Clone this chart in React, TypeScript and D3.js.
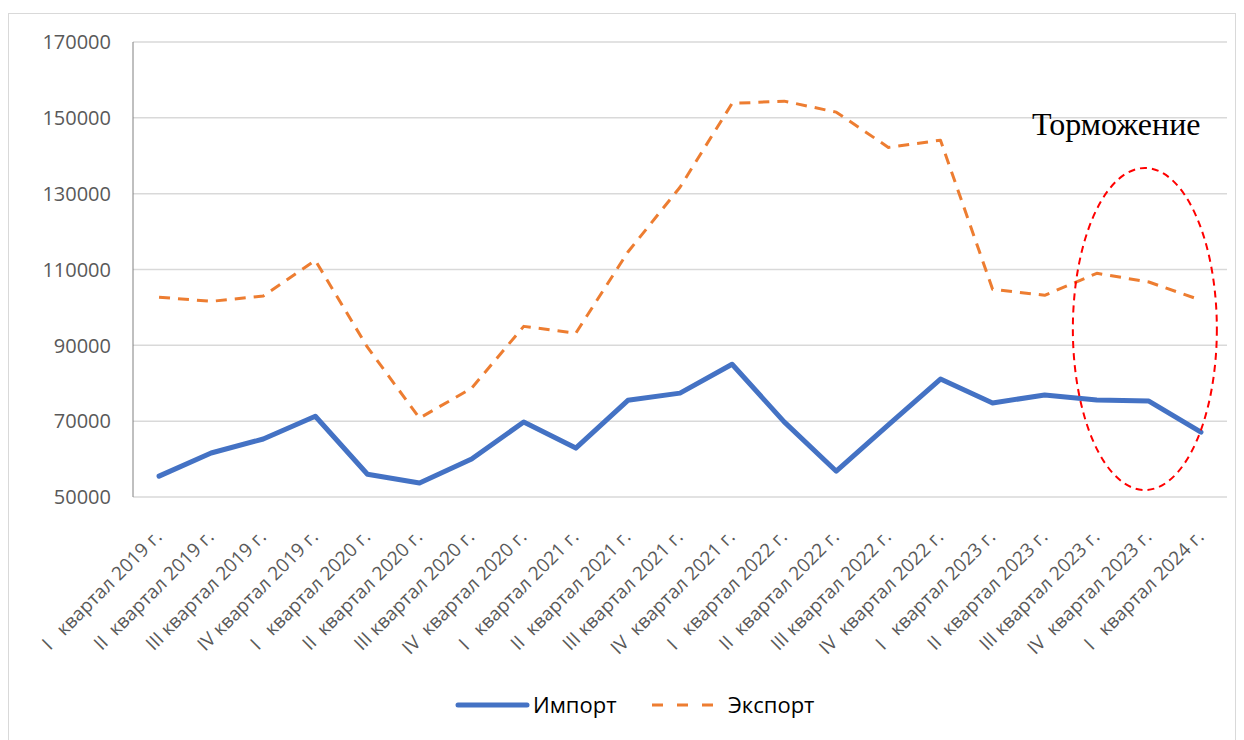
import React from "react";
import * as d3 from "d3";

const categories = [
  "I   квартал 2019 г.", "II  квартал 2019 г.", "III квартал 2019 г.", "IV квартал 2019 г.",
  "I   квартал 2020 г.", "II  квартал 2020 г.", "III квартал 2020 г.", "IV  квартал 2020 г.",
  "I   квартал 2021 г.", "II  квартал 2021 г.", "III квартал 2021 г.", "IV  квартал 2021 г.",
  "I   квартал 2022 г.", "II  квартал 2022 г.", "III квартал 2022 г.", "IV  квартал 2022 г.",
  "I   квартал 2023 г.", "II  квартал 2023 г.", "III квартал 2023 г.", "IV  квартал 2023 г.",
  "I   квартал 2024 г.",
];
const importValues = [55500, 61600, 65300, 71300, 56000, 53700, 60000, 69800, 62900, 75500, 77400, 85000, 69800, 56800, 69000, 81100, 74800, 76900, 75600, 75300, 67100];
const exportValues = [102700, 101600, 103000, 112400, 89500, 70800, 78700, 95000, 93200, 114600, 131700, 153800, 154400, 151500, 142200, 144100, 104800, 103200, 109000, 106700, 101900];
const yTicks = [50000, 70000, 90000, 110000, 130000, 150000, 170000];
const seriesNames = ["Импорт", "Экспорт"];
const annotation = "Торможение";

export default function App() {
  const W = 1244, H = 740;
  const left = 133, right = 1227, top = 42, bottom = 497;
  const x = d3.scalePoint<string>().domain(categories).range([left, right]).padding(0.5);
  const y = d3.scaleLinear().domain([50000, 170000]).range([bottom, top]);
  const idx = categories.map((_, i) => i);
  const line = (vals: number[]) =>
    d3.line<number>().x((i) => x(categories[i]) as number).y((i) => y(vals[i]))(idx) as string;
  const font = "'Open Sans', 'Liberation Sans', sans-serif";
  const ex = (x(categories[19]) as number) - 4;
  return (
    <svg width={W} height={H} style={{ position: "absolute", left: 0, top: 0 }}>
      <rect x={0} y={0} width={W} height={H} fill="#fff" />
      <rect x={8.5} y={13.5} width={1227} height={740} fill="#fff" stroke="#d9d9d9" />
      {yTicks.map((t) => (
        <g key={t}>
          <line x1={left} x2={right} y1={y(t)} y2={y(t)} stroke="#d9d9d9" strokeWidth={1.5} />
          <text x={111} y={y(t)} dy="0.36em" textAnchor="end" fontFamily={font} fontSize={20} fill="#595959">{t}</text>
        </g>
      ))}
      <line x1={left} x2={left} y1={top} y2={bottom} stroke="#808080" strokeWidth={1} />
      {categories.map((c) => {
        const cx = x(c) as number;
        return (
          <text key={c} transform={`translate(${cx + 4},${538}) rotate(-45)`} textAnchor="end"
            fontFamily={font} fontSize={19} fill="#595959" style={{ whiteSpace: "pre" }}>{c}</text>
        );
      })}
      <path d={line(importValues)} fill="none" stroke="#4472C4" strokeWidth={5} strokeLinejoin="round" strokeLinecap="round" />
      <path d={line(exportValues)} fill="none" stroke="#ED7D31" strokeWidth={3} strokeDasharray="11,8" strokeLinejoin="round" />
      <ellipse cx={ex} cy={329} rx={72} ry={161} fill="none" stroke="#FF0000" strokeWidth={2} strokeDasharray="7,5" />
      <text x={1032} y={135} fontFamily="'Liberation Serif', 'Times New Roman', serif" fontSize={32} fill="#000">{annotation}</text>
      <g fontFamily={font} fontSize={22} fill="#000">
        <line x1={458} x2={527} y1={705} y2={705} stroke="#4472C4" strokeWidth={5} strokeLinecap="round" />
        <text x={533} y={705} dy="0.35em">{seriesNames[0]}</text>
        <line x1={652} x2={722} y1={705} y2={705} stroke="#ED7D31" strokeWidth={3} strokeDasharray="11,14" />
        <text x={728} y={705} dy="0.35em">{seriesNames[1]}</text>
      </g>
    </svg>
  );
}
